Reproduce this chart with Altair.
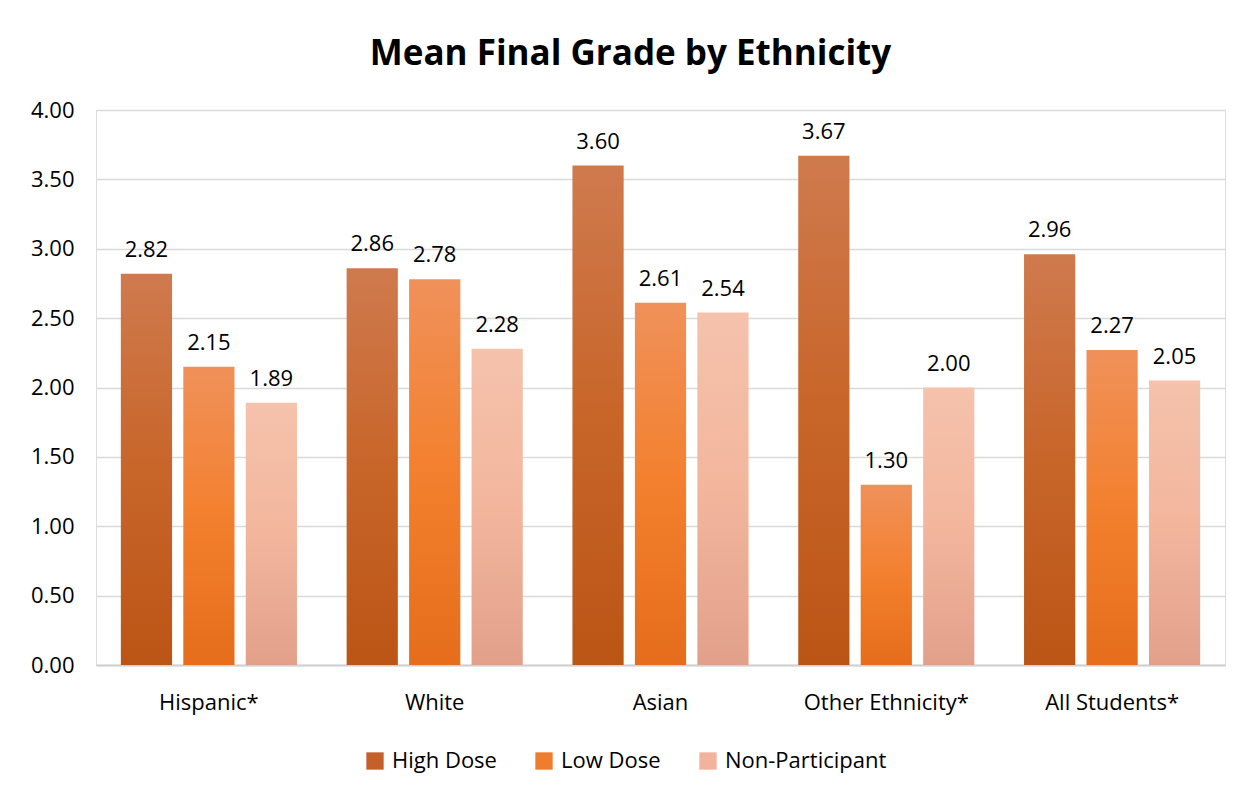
import altair as alt
import pandas as pd

categories = ["Hispanic*", "White", "Asian", "Other Ethnicity*", "All Students*"]
series = ["High Dose", "Low Dose", "Non-Participant"]
high_dose = [2.82, 2.86, 3.60, 3.67, 2.96]
low_dose = [2.15, 2.78, 2.61, 1.30, 2.27]
non_participant = [1.89, 2.28, 2.54, 2.00, 2.05]

rows = []
for i, c in enumerate(categories):
    for s, vals in zip(series, [high_dose, low_dose, non_participant]):
        rows.append({"category": c, "series": s, "value": vals[i]})
df = pd.DataFrame(rows)

grads = {
    "High Dose": ("#cf7a4e", "#c86529", "#bb5516"),
    "Low Dose": ("#f0915a", "#f3802e", "#e56d1c"),
    "Non-Participant": ("#f5c2ac", "#f3b69d", "#e2a08a"),
}
legend_colors = ["#c4612a", "#ef7d2e", "#f1b39b"]

FONT = "Open Sans"
FS = 22

x_enc = alt.X("category:N", sort=categories, title=None,
              scale=alt.Scale(paddingInner=0.22, paddingOuter=0.11),
              axis=alt.Axis(labelAngle=0, labelFontSize=FS, labelFont=FONT, labelColor="#000000",
                            ticks=False, domainColor="#d0d0d0", domainWidth=2, labelPadding=27))
y_enc = alt.Y("value:Q", title=None,
              scale=alt.Scale(domain=[0, 4]),
              axis=alt.Axis(values=[0, 0.5, 1, 1.5, 2, 2.5, 3, 3.5, 4], format=".2f",
                            labelFontSize=FS, labelFont=FONT, labelColor="#000000",
                            domain=False, ticks=False, gridColor="#d9d9d9", gridWidth=1.5,
                            labelPadding=22))
xoff = alt.XOffset("series:N", sort=series, scale=alt.Scale(domain=series, paddingInner=0.18))

base = alt.Chart(df)

legend_layer = base.mark_bar(opacity=0).encode(
    x=x_enc, y=y_enc, xOffset=xoff,
    color=alt.Color("series:N", sort=series, title=None,
                    scale=alt.Scale(domain=series, range=legend_colors),
                    legend=alt.Legend(orient="none", direction="horizontal",
                                      legendX=268, legendY=640,
                                      symbolType="square", symbolSize=300, symbolOpacity=1,
                                      symbolStrokeWidth=0, labelFontSize=FS, labelFont=FONT,
                                      labelColor="#000000", columnPadding=36, labelLimit=400,
                                      labelOffset=6)),
)

layers = [legend_layer]
for s in series:
    top, mid, bot = grads[s]
    g = alt.Gradient(gradient="linear",
                     stops=[alt.GradientStop(color=top, offset=0),
                            alt.GradientStop(color=mid, offset=0.5),
                            alt.GradientStop(color=bot, offset=1)],
                     x1=0, x2=0, y1=0, y2=1)
    layers.append(
        base.transform_filter(alt.datum.series == s).mark_bar(color=g).encode(
            x=x_enc, y=y_enc, xOffset=xoff)
    )

labels = base.mark_text(baseline="bottom", dy=-12, fontSize=FS, font=FONT, color="#000000").encode(
    x=x_enc, y=y_enc, xOffset=xoff,
    text=alt.Text("value:Q", format=".2f"),
)
layers.append(labels)

chart = alt.layer(*layers).properties(
    width=1129, height=555,
    title=alt.TitleParams("Mean Final Grade by Ethnicity", fontSize=35, font=FONT,
                          fontWeight="bold", color="#000000", anchor="middle", offset=27, dx=-30),
    padding={"left": 22, "top": 29, "right": 15, "bottom": 10},
).configure_view(stroke=None).configure(background="#ffffff")

chart.save("out.html", embed_options={"renderer": "svg", "actions": False})
